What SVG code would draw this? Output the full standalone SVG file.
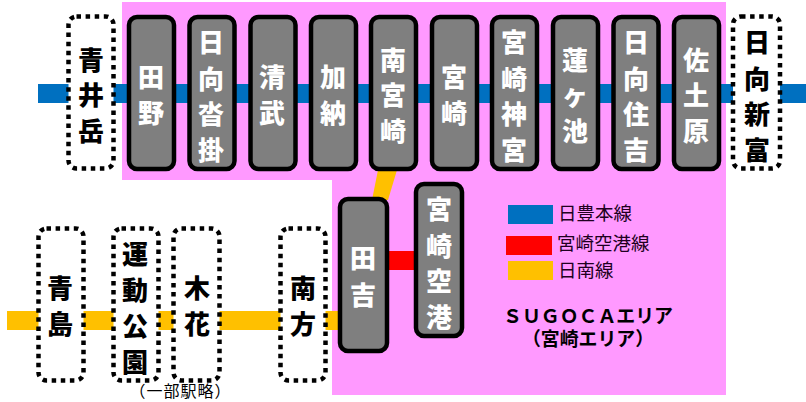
<svg xmlns="http://www.w3.org/2000/svg" width="806" height="402" viewBox="0 0 806 402">
<style>
text{font-family:"Noto Sans CJK JP","Noto Sans CJK SC",sans-serif}
.st{fill:#7f7f7f;stroke:#000;stroke-width:4.5}
.dot{fill:#fff;stroke:#000;stroke-width:4.5;stroke-dasharray:4.5 4.6}
.w,.k{font-size:26px;font-weight:900;text-anchor:middle}
.w{fill:#fff}
.k{fill:#000}
.lg{font-size:18.5px;fill:#200020}
.ar{font-size:18.9px;font-weight:700;fill:#000;text-anchor:middle}
</style>
<rect width="806" height="402" fill="#fff"/>
<path d="M122 2H726V395H332V180H122Z" fill="#ff99ff"/>
<g id="connectors">
<rect x="38" y="84" width="768" height="19" fill="#0070c0"/>
<rect x="7" y="311" width="333" height="19" fill="#ffc000"/>
<path d="M378 170H397L388 200H372Z" fill="#ffc000"/>
<rect x="388" y="251" width="27" height="19" fill="#f00"/>
</g>
<g id="n-aoidake"><rect class="dot" x="68.500" y="16.500" width="45" height="152" rx="8"/><text class="k"><tspan x="91" y="70">青</tspan><tspan x="91" y="105">井</tspan><tspan x="91" y="141">岳</tspan></text></g>
<g id="n-tano"><rect class="st" x="129" y="17" width="45" height="152" rx="8"/><text class="w"><tspan x="151" y="87">田</tspan><tspan x="151" y="123">野</tspan></text></g>
<g id="n-hyugakutsukake"><rect class="st" x="189.500" y="17" width="45" height="152" rx="8"/><text class="w"><tspan x="211" y="52">日</tspan><tspan x="211" y="89">向</tspan><tspan x="211" y="124">沓</tspan><tspan x="211" y="160">掛</tspan></text></g>
<g id="n-kiyotake"><rect class="st" x="250.500" y="17" width="45" height="152" rx="8"/><text class="w"><tspan x="272" y="87">清</tspan><tspan x="272" y="123">武</tspan></text></g>
<g id="n-kano"><rect class="st" x="311" y="17" width="45" height="152" rx="8"/><text class="w"><tspan x="333" y="87">加</tspan><tspan x="333" y="123">納</tspan></text></g>
<g id="n-minamimiyazaki"><rect class="st" x="371" y="17" width="45" height="152" rx="8"/><text class="w"><tspan x="393" y="70">南</tspan><tspan x="393" y="105">宮</tspan><tspan x="393" y="141">崎</tspan></text></g>
<g id="n-miyazaki"><rect class="st" x="432" y="17" width="45" height="152" rx="8"/><text class="w"><tspan x="454" y="87">宮</tspan><tspan x="454" y="123">崎</tspan></text></g>
<g id="n-miyazakijingu"><rect class="st" x="492" y="17" width="45" height="152" rx="8"/><text class="w"><tspan x="514" y="52">宮</tspan><tspan x="514" y="89">崎</tspan><tspan x="514" y="124">神</tspan><tspan x="514" y="160">宮</tspan></text></g>
<g id="n-hasugaike"><rect class="st" x="553" y="17" width="45" height="152" rx="8"/><text class="w"><tspan x="575" y="70">蓮</tspan><tspan x="575" y="105">ヶ</tspan><tspan x="575" y="141">池</tspan></text></g>
<g id="n-hyugasumiyoshi"><rect class="st" x="613.500" y="17" width="45" height="152" rx="8"/><text class="w"><tspan x="636" y="52">日</tspan><tspan x="636" y="89">向</tspan><tspan x="636" y="124">住</tspan><tspan x="636" y="160">吉</tspan></text></g>
<g id="n-sadowara"><rect class="st" x="674" y="17" width="45" height="152" rx="8"/><text class="w"><tspan x="696" y="70">佐</tspan><tspan x="696" y="105">土</tspan><tspan x="696" y="141">原</tspan></text></g>
<g id="n-hyugashintomi"><rect class="dot" x="733" y="16.500" width="47" height="152" rx="8"/><text class="k"><tspan x="757" y="52">日</tspan><tspan x="757" y="89">向</tspan><tspan x="757" y="124">新</tspan><tspan x="757" y="160">富</tspan></text></g>
<g id="n-tayoshi"><rect class="st" x="340" y="199" width="47" height="152" rx="8"/><text class="w"><tspan x="363" y="268">田</tspan><tspan x="363" y="305">吉</tspan></text></g>
<g id="n-miyazakikuko"><rect class="st" x="416" y="184" width="46" height="152" rx="8"/><text class="w"><tspan x="439" y="219">宮</tspan><tspan x="439" y="256">崎</tspan><tspan x="439" y="291">空</tspan><tspan x="439" y="327">港</tspan></text></g>
<g id="n-aoshima"><rect class="dot" x="38.500" y="228.500" width="45" height="152" rx="8"/><text class="k"><tspan x="60" y="298">青</tspan><tspan x="60" y="334">島</tspan></text></g>
<g id="n-undokoen"><rect class="dot" x="113.500" y="228.500" width="45" height="152" rx="8"/><text class="k"><tspan x="135" y="264">運</tspan><tspan x="135" y="300">動</tspan><tspan x="135" y="336">公</tspan><tspan x="135" y="372">園</tspan></text></g>
<g id="n-kibana"><rect class="dot" x="173.500" y="228.500" width="46" height="152" rx="8"/><text class="k"><tspan x="197" y="298">木</tspan><tspan x="197" y="334">花</tspan></text></g>
<g id="n-minamikata"><rect class="dot" x="280.500" y="228.500" width="45" height="152" rx="8"/><text class="k"><tspan x="303" y="298">南</tspan><tspan x="303" y="334">方</tspan></text></g>
<g id="legend">
<rect x="508" y="205" width="45" height="19" fill="#0070c0"/>
<rect x="506" y="236" width="46" height="19" fill="#f00"/>
<rect x="508" y="261" width="45" height="19" fill="#ffc000"/>
<text class="lg" x="558" y="220">日豊本線</text>
<text class="lg" x="557" y="250">宮崎空港線</text>
<text class="lg" x="558" y="277">日南線</text>
</g>
<text class="ar" x="588" y="323">&#xFF33;&#xFF35;&#xFF27;&#xFF2F;&#xFF23;&#xFF21;エリア</text>
<text class="ar" x="588" y="346">&#xFF08;宮崎エリア&#xFF09;</text>
<text x="180.500" y="397" font-size="16" letter-spacing="1" text-anchor="middle" fill="#000">&#xFF08;一部駅略&#xFF09;</text>
</svg>
